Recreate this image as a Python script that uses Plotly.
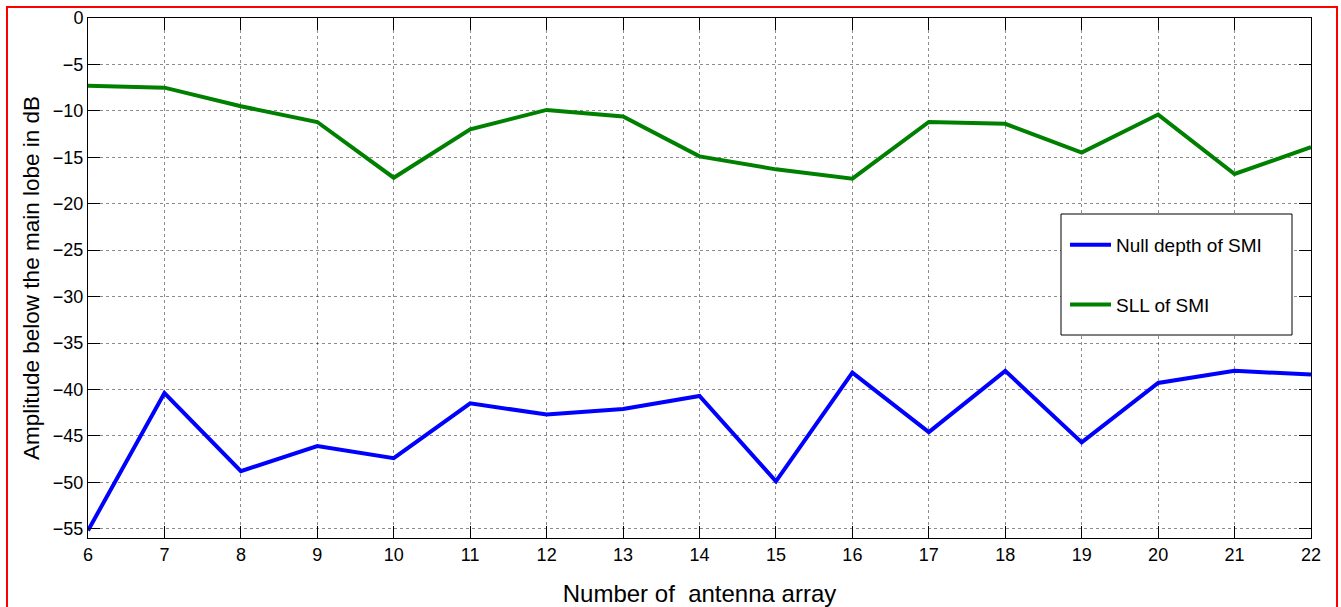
import plotly.graph_objects as go

# Number of elements in the antenna array
n_elements = [6, 7, 8, 9, 10, 11, 12, 13, 14, 15, 16, 17, 18, 19, 20, 21, 22]

# Null depth achieved by SMI beamforming (dB below main lobe)
null_depth_smi = [-55.2, -40.4, -48.8, -46.1, -47.4, -41.5, -42.7, -42.1, -40.7,
                  -49.9, -38.2, -44.6, -38.0, -45.7, -39.3, -38.0, -38.4]

# Side lobe level of SMI beamforming (dB below main lobe)
sll_smi = [-7.3, -7.5, -9.5, -11.2, -17.2, -12.0, -9.9, -10.6, -14.9,
           -16.3, -17.3, -11.2, -11.4, -14.5, -10.4, -16.8, -13.9]

x_ticks = list(range(6, 23))
y_ticks = list(range(0, -60, -5))

FONT = "Arial, Liberation Sans, sans-serif"

fig = go.Figure()
fig.add_trace(go.Scatter(x=n_elements, y=null_depth_smi, mode="lines",
                         name="Null depth of SMI", legendgroup="a",
                         line=dict(color="#0000ff", width=4)))
fig.add_trace(go.Scatter(x=n_elements, y=sll_smi, mode="lines",
                         name="SLL of SMI", legendgroup="b",
                         line=dict(color="#008000", width=4)))

axis_common = dict(
    showline=True, linecolor="black", linewidth=1, mirror="ticks",
    ticks="inside", ticklen=12, tickcolor="black", tickwidth=1,
    showgrid=True, gridcolor="rgba(0,0,0,0.45)", griddash="dot", gridwidth=1,
    zeroline=False, automargin=False,
    tickfont=dict(family=FONT, size=18, color="black"),
)

fig.update_xaxes(range=[6, 22], tickvals=x_ticks,
                 title=dict(text="Number of \u00a0antenna array",
                            font=dict(family=FONT, size=24, color="black"),
                            standoff=22),
                 **axis_common)
fig.update_yaxes(range=[-56, 0], tickvals=y_ticks,
                 title=dict(text="Amplitude below the main lobe in dB",
                            font=dict(family=FONT, size=22.5, color="black"),
                            standoff=6),
                 **axis_common)

# Legend frame (white box that hides the grid behind the legend)
fig.add_shape(type="rect", xref="paper", yref="paper",
              x0=(1061 - 88) / 1223, x1=(1292 - 88) / 1223,
              y0=(538 - 335) / 520, y1=(538 - 214) / 520,
              line=dict(color="black", width=1), fillcolor="white", layer="above")

# Red figure frame
fig.add_shape(type="rect", xref="paper", yref="paper",
              x0=(7 - 88) / 1223, x1=(1337 - 88) / 1223,
              y0=-0.3, y1=(538 - 7) / 520,
              line=dict(color="#ff0000", width=2), fillcolor="rgba(0,0,0,0)",
              layer="above")

fig.update_layout(
    width=1341, height=607,
    margin=dict(l=88, r=30, t=18, b=69),
    paper_bgcolor="white", plot_bgcolor="white",
    showlegend=True,
    legend=dict(x=(1065 - 88) / 1223, y=(538 - 226) / 520,
                xanchor="left", yanchor="top",
                bgcolor="rgba(0,0,0,0)", borderwidth=0,
                traceorder="grouped", tracegroupgap=32, itemwidth=41,
                font=dict(family=FONT, size=19, color="black")),
)

fig.write_html("out.html")
